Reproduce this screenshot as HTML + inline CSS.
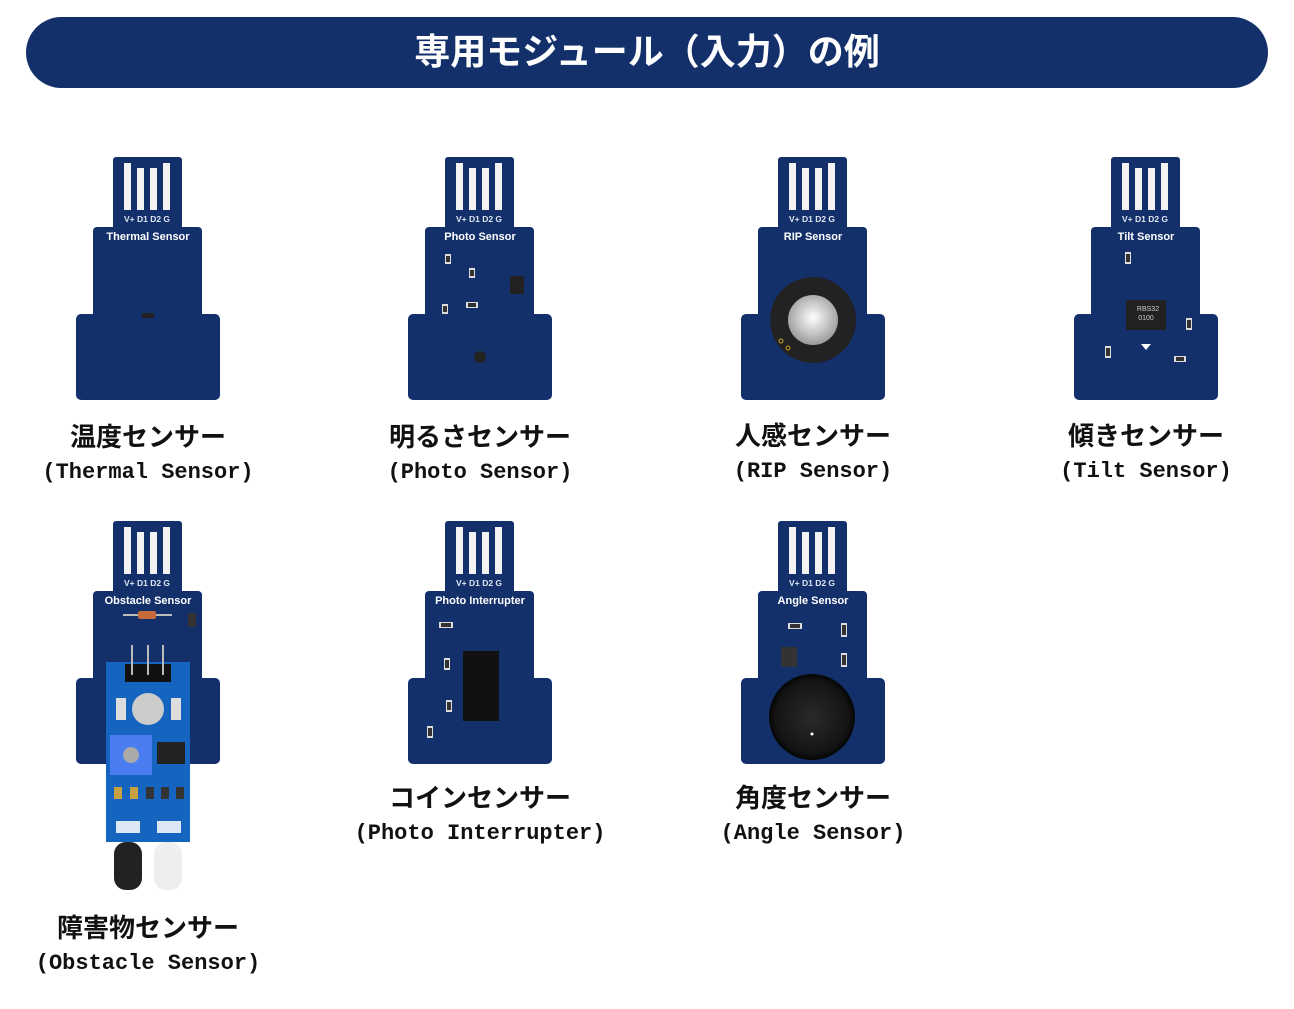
<!DOCTYPE html>
<html><head><meta charset="utf-8"><style>
html,body{margin:0;padding:0;background:#fff;}
body{width:1294px;height:1009px;overflow:hidden;position:relative;}
svg{position:absolute;left:0;top:0;}
</style></head><body>
<svg width="1294" height="1009" viewBox="0 0 1294 1009" xmlns="http://www.w3.org/2000/svg">
<defs>
  <g id="board">
    <rect x="113" y="157" width="69" height="80" rx="3" fill="#13306b"/>
    <rect x="93" y="227" width="109" height="100" rx="4" fill="#13306b"/>
    <rect x="76" y="314" width="144" height="86" rx="5" fill="#13306b"/>
    <rect x="124" y="163" width="7" height="47" fill="#f2f2f2"/>
    <rect x="137" y="168" width="7" height="42" fill="#f2f2f2"/>
    <rect x="150" y="168" width="7" height="42" fill="#f2f2f2"/>
    <rect x="163" y="163" width="7" height="47" fill="#f2f2f2"/>
    <text x="147" y="222" font-family="Liberation Sans, sans-serif" font-size="8.5" fill="#dfe6f2" text-anchor="middle">V+ D1 D2 G</text>
  </g>
  <radialGradient id="dome" cx="0.5" cy="0.45" r="0.55"><stop offset="0" stop-color="#fff"/><stop offset="1" stop-color="#9a9a9a"/></radialGradient>
  <radialGradient id="knob" cx="0.5" cy="0.5" r="0.5"><stop offset="0" stop-color="#2a2a2a"/><stop offset="0.85" stop-color="#141414"/><stop offset="1" stop-color="#050505"/></radialGradient>
</defs>

<rect x="26" y="17" width="1242" height="71" rx="35.5" fill="#13306b"/>
<text x="647" y="64" font-family="'Noto Sans CJK JP', sans-serif" font-weight="bold" font-size="36" fill="#fff" text-anchor="middle">専用モジュール（入力）の例</text>

<g font-family="'Liberation Sans', sans-serif" font-weight="bold" font-size="11" fill="#fff" text-anchor="middle">
<use href="#board"/>
<text x="148" y="240">Thermal Sensor</text>
<rect x="142" y="313" width="12" height="5" fill="#222"/>

<use href="#board" x="332"/>
<text x="480" y="240">Photo Sensor</text>
<rect x="445" y="254" width="6" height="10" fill="#ddd"/><rect x="446" y="256" width="4" height="6" fill="#333"/>
<rect x="469" y="268" width="6" height="10" fill="#ddd"/><rect x="470" y="270" width="4" height="6" fill="#333"/>
<rect x="510" y="276" width="14" height="18" fill="#222"/>
<rect x="442" y="304" width="6" height="10" fill="#ddd"/><rect x="443" y="306" width="4" height="6" fill="#333"/>
<rect x="466" y="302" width="12" height="6" fill="#ddd"/><rect x="468" y="303" width="8" height="4" fill="#333"/>
<circle cx="480" cy="357" r="6" fill="#222"/>

<use href="#board" x="665"/>
<text x="813" y="240">RIP Sensor</text>
<circle cx="813" cy="320" r="43" fill="#222"/>
<circle cx="813" cy="320" r="25" fill="url(#dome)"/>
<circle cx="781" cy="341" r="2" fill="none" stroke="#c9a020"/><circle cx="788" cy="348" r="2" fill="none" stroke="#c9a020"/>

<use href="#board" x="998"/>
<text x="1146" y="240">Tilt Sensor</text>
<rect x="1125" y="252" width="6" height="12" fill="#ddd"/><rect x="1126" y="254" width="4" height="8" fill="#333"/>
<rect x="1126" y="300" width="40" height="30" fill="#222"/>
<text x="1148" y="311" font-size="7" font-weight="normal" fill="#ccc">RBS32</text>
<text x="1146" y="320" font-size="7" font-weight="normal" fill="#ccc">0100</text>
<rect x="1186" y="318" width="6" height="12" fill="#ddd"/><rect x="1187" y="320" width="4" height="8" fill="#333"/>
<path d="M1141 344 h10 l-5 6 z" fill="#fff"/>
<rect x="1105" y="346" width="6" height="12" fill="#ddd"/><rect x="1106" y="348" width="4" height="8" fill="#333"/>
<rect x="1174" y="356" width="12" height="6" fill="#ddd"/><rect x="1176" y="357" width="8" height="4" fill="#333"/>

<use href="#board" y="364"/>
<text x="148" y="604">Obstacle Sensor</text>
<line x1="123" y1="615" x2="172" y2="615" stroke="#bbb" stroke-width="2"/>
<rect x="138" y="611" width="18" height="8" rx="2" fill="#c66a3a"/>
<rect x="188" y="613" width="8" height="14" fill="#333"/>
<rect x="106" y="662" width="84" height="180" fill="#1565c0"/>
<rect x="125" y="664" width="46" height="18" fill="#111"/>
<line x1="132" y1="645" x2="132" y2="675" stroke="#bbb" stroke-width="2"/>
<line x1="148" y1="645" x2="148" y2="675" stroke="#bbb" stroke-width="2"/>
<line x1="163" y1="645" x2="163" y2="675" stroke="#bbb" stroke-width="2"/>
<circle cx="148" cy="709" r="16" fill="#ccc"/>
<rect x="116" y="698" width="10" height="22" fill="#ddd"/><rect x="171" y="698" width="10" height="22" fill="#ddd"/>
<rect x="110" y="735" width="42" height="40" fill="#4a7df0"/>
<circle cx="131" cy="755" r="8" fill="#aaa"/>
<rect x="157" y="742" width="28" height="22" fill="#222"/>
<rect x="114" y="787" width="8" height="12" fill="#c8a040"/><rect x="130" y="787" width="8" height="12" fill="#c8a040"/>
<rect x="146" y="787" width="8" height="12" fill="#333"/><rect x="161" y="787" width="8" height="12" fill="#333"/><rect x="176" y="787" width="8" height="12" fill="#333"/>
<rect x="116" y="821" width="24" height="12" fill="#fff" opacity="0.85"/><rect x="157" y="821" width="24" height="12" fill="#fff" opacity="0.85"/>
<rect x="114" y="842" width="28" height="48" rx="12" fill="#222"/>
<rect x="154" y="842" width="28" height="48" rx="12" fill="#eee"/>

<use href="#board" x="332" y="364"/>
<text x="480" y="604">Photo Interrupter</text>
<rect x="439" y="622" width="14" height="6" fill="#ddd"/><rect x="441" y="623" width="10" height="4" fill="#333"/>
<rect x="444" y="658" width="6" height="12" fill="#ddd"/><rect x="445" y="660" width="4" height="8" fill="#333"/>
<rect x="463" y="651" width="36" height="70" fill="#111"/>
<rect x="446" y="700" width="6" height="12" fill="#ddd"/><rect x="447" y="702" width="4" height="8" fill="#333"/>
<rect x="427" y="726" width="6" height="12" fill="#ddd"/><rect x="428" y="728" width="4" height="8" fill="#333"/>

<use href="#board" x="665" y="364"/>
<text x="813" y="604">Angle Sensor</text>
<rect x="788" y="623" width="14" height="6" fill="#ddd"/><rect x="790" y="624" width="10" height="4" fill="#333"/>
<rect x="841" y="623" width="6" height="14" fill="#ddd"/><rect x="842" y="625" width="4" height="10" fill="#333"/>
<rect x="781" y="647" width="16" height="20" fill="#333"/>
<rect x="841" y="653" width="6" height="14" fill="#ddd"/><rect x="842" y="655" width="4" height="10" fill="#333"/>
<circle cx="812" cy="717" r="43" fill="url(#knob)"/>
<circle cx="812" cy="734" r="1.5" fill="#fff"/>
</g>

<g font-weight="bold" fill="#111" text-anchor="middle">
<g font-family="'Noto Sans CJK JP', sans-serif" font-size="26">
<text x="148" y="446">温度センサー</text>
<text x="480" y="446">明るさセンサー</text>
<text x="813" y="445">人感センサー</text>
<text x="1146" y="445">傾きセンサー</text>
<text x="480" y="807">コインセンサー</text>
<text x="813" y="807">角度センサー</text>
<text x="148" y="937">障害物センサー</text>
</g>
<g font-family="'Liberation Mono', monospace" font-size="22">
<text x="148" y="478">(Thermal Sensor)</text>
<text x="480" y="478">(Photo Sensor)</text>
<text x="813" y="477">(RIP Sensor)</text>
<text x="1146" y="477">(Tilt Sensor)</text>
<text x="480" y="839">(Photo Interrupter)</text>
<text x="813" y="839">(Angle Sensor)</text>
<text x="148" y="969">(Obstacle Sensor)</text>
</g>
</g>
</svg>
</body></html>
